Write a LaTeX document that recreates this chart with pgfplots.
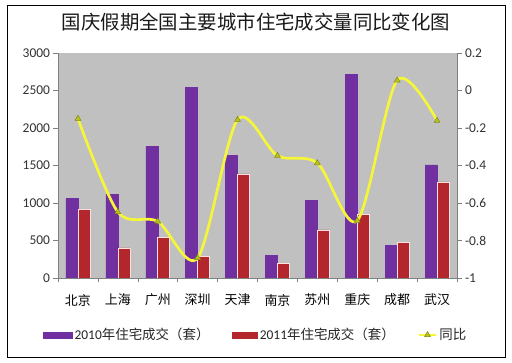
\documentclass[border=0pt]{standalone}
\usepackage{pgfplots}
\pgfplotsset{compat=1.18}
\usepackage{fontspec}
\setmainfont{Carlito}
\newfontfamily\cjk{Noto Sans CJK SC}
\definecolor{bgray}{HTML}{C0C0C0}
\definecolor{purp}{HTML}{7030A0}
\definecolor{dred}{HTML}{B3262B}
\definecolor{ylw}{HTML}{F5F53A}
\definecolor{axgray}{HTML}{808080}
\definecolor{mk}{HTML}{B8C41E}
\begin{document}
\begin{tikzpicture}
\useasboundingbox (0,0) rectangle (512bp,363bp);
\fill[white] (0,0) rectangle (512bp,363bp);
\draw[black, line width=0.8bp] (7bp,6bp) rectangle (505bp,358bp);
\node[font=\cjk\fontsize{19.5}{22}\selectfont, text=black!90] at (256bp,341bp) {国庆假期全国主要城市住宅成交量同比变化图};

\begin{axis}[
 scale only axis, width=399bp, height=225bp,
 at={(58bp,85bp)}, anchor=south west,
 xmin=-0.5, xmax=9.5, ymin=0, ymax=3000,
 ytick={0,500,1000,1500,2000,2500,3000},
 scaled y ticks=false,
 xtick={-0.5,0.5,...,9.5}, xticklabel=\empty,
 axis x line*=bottom, axis y line*=left,
 axis line style={draw=axgray, line width=0.6bp},
 tick style={draw=axgray, line width=0.6bp},
 tick align=outside, major tick length=4.5bp,
 axis background/.style={fill=bgray},
 ybar=0pt, bar width=12bp,
 yticklabel style={font=\fontsize{13.5}{15}\selectfont, text=black!80},
 /pgf/number format/assume math mode=true,
 /pgf/number format/1000 sep={},
]
\addplot[fill=purp, draw=purp] coordinates {(0,1060) (1,1115) (2,1755) (3,2546) (4,1631) (5,298) (6,1031) (7,2715) (8,436) (9,1507)};
\addplot[fill=dred, draw=red!12!white, line width=0.7bp] coordinates {(0,915) (1,400) (2,542) (3,289) (4,1387) (5,191) (6,640) (7,844) (8,471) (9,1280)};
\end{axis}

\begin{axis}[
 scale only axis, width=399bp, height=225bp,
 at={(58bp,85bp)}, anchor=south west,
 xmin=-0.5, xmax=9.5, ymin=-1, ymax=0.2,
 ytick={-1,-0.8,-0.6,-0.4,-0.2,0,0.2},
 yticklabels={-1,-0.8,-0.6,-0.4,-0.2,0,0.2},
 axis y line*=right, axis x line*=bottom,
 axis line style={draw=axgray, line width=0.6bp},
 tick style={draw=axgray, line width=0.6bp},
 tick align=outside, major tick length=4.5bp,
 xtick={0,...,9},
 xticklabels={北京,上海,广州,深圳,天津,南京,苏州,重庆,成都,武汉},
 xtick style={draw=none},
 xticklabel style={font=\cjk\fontsize{13}{15}\selectfont, yshift=-8bp},
 yticklabel style={font=\fontsize{13.5}{15}\selectfont, text=black!80},
 legend columns=3,
 legend cell align=left,
 legend style={at={(axis description cs:-0.0376,-0.253)}, anchor=west, draw=none, fill=none,
   inner sep=0pt, font=\fontsize{13.5}{15}\selectfont, text=black!85,
   /tikz/every even column/.append style={column sep=21bp}},
]
\addlegendimage{legend image code/.code={\fill[purp] (0bp,-3bp) rectangle (29bp,3bp);}}
\addlegendentry{2010{\cjk 年住宅成交（套）}}
\addlegendimage{legend image code/.code={\fill[dred] (0bp,-3bp) rectangle (25bp,3bp);}}
\addlegendentry{2011{\cjk 年住宅成交（套）}}
\addplot[smooth, color=ylw, line width=2.7bp, mark=triangle*, mark size=3.4bp,
  mark options={fill=mk, draw=mk!70!black, line width=0.5bp}]
  coordinates {(0,-0.15) (1,-0.648) (2,-0.698) (3,-0.893) (4,-0.156) (5,-0.348) (6,-0.387) (7,-0.694) (8,0.054) (9,-0.161)};
\addlegendentry{{\cjk 同比}}
\end{axis}
\end{tikzpicture}
\end{document}
